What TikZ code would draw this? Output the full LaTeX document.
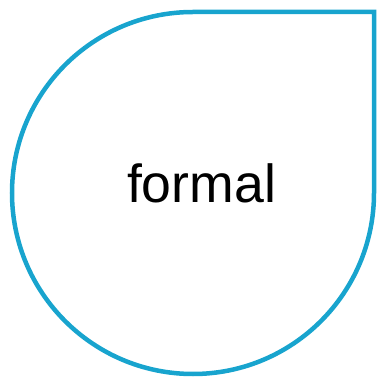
\documentclass[tikz,border=0pt]{standalone}
\usepackage{fontspec}
\setmainfont{Liberation Sans}
\definecolor{dropblue}{RGB}{24,164,206}
\begin{document}
\begin{tikzpicture}[x=1pt,y=1pt,
  drop/.style={draw=dropblue,line width=4.5pt,line join=miter},
  label/.style={font=\fontsize{53.6}{60}\selectfont,text=black,inner sep=0pt,anchor=base}]
\useasboundingbox (0,0) rectangle (380,380);
\coordinate (c) at (193,187);
\draw[drop] (193,368) -- (374,368) -- (374,187) arc[start angle=0,end angle=-270,radius=181] -- cycle;
\node[label] (t) at (201.5,177) {formal};
\end{tikzpicture}
\end{document}
